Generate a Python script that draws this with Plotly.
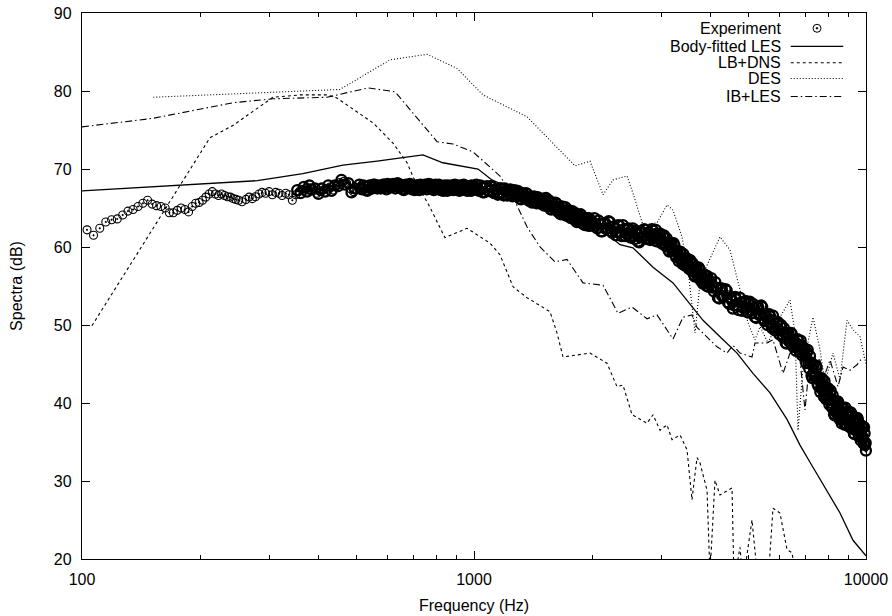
import plotly.graph_objects as go

# ---------------- data ----------------
# Experiment (Hz, dB) -- in segments
exp_freq_a = [99,103,107,111,115,119,123,127,131,135,139,143,147,151,155,159,163,167,171,175,
              179,183,187,191,195,199,203,207,211,215,219,223,227,231,235,239,243,247,
              251,256,262,267,272,277,283,288,294,300,306,312,318,324,331,337,344,351,358,365,
              372,377,382,389,397,405,413,421,429,438,446,455,464,473,483,492,502]
exp_db_a = [62.0,62.2,61.5,62.4,63.2,63.5,63.6,64.1,64.6,64.8,65.2,65.6,66.0,65.5,65.3,65.2,65.0,64.4,64.4,64.7,
            65.0,64.8,64.5,65.2,65.6,65.7,66.0,66.4,66.8,67.1,66.8,66.6,66.8,66.6,66.45,66.4,66.2,66.1,
            66.0,65.8,66.1,66.4,66.2,66.45,66.8,67.0,66.9,67.1,66.7,67.0,66.9,66.6,66.9,66.7,66.0,66.7,67.1,67.4,
            67.5,67.3,68.0,67.3,66.9,67.1,67.3,67.5,67.7,67.3,67.95,68.25,68.4,68.2,67.5,67.1,67.3]
exp_freq_a2 = [354,361,368,375,380,385,393,401,409,417,425,433,442,450,459,468,478,487,497]
exp_db_a2 = [67.3,66.9,67.7,67.1,67.9,67.4,67.5,66.8,67.5,67.1,67.9,67.2,67.9,67.8,68.6,68.0,68.2,67.0,67.5]

exp_freq_b = [510,518,526,534,542,550,558,566,574,582,590,598,606,614,622,630,638,646,654,662,
              670,678,686,694,702,710,718,726,734,742,750,758,766,774,782,790,798,806,814,822,
              830,838,846,854,862,870,878,886,894,902,910,918,926,934,942,950,958,966,974,982,990,998]
exp_db_b = [68.0,67.4,67.7,67.2,67.9,67.5,68.0,67.5,67.8,67.6,68.0,67.4,68.0,67.7,68.1,67.5,68.2,67.6,67.8,67.3,
            68.0,67.6,68.1,67.4,67.7,67.5,67.9,67.3,67.9,67.6,68.0,67.4,68.1,67.5,67.8,67.3,68.0,67.5,68.0,67.3,
            67.6,67.4,67.8,67.2,67.8,67.5,67.9,67.3,68.0,67.4,67.7,67.2,67.9,67.5,68.0,67.3,67.6,67.4,67.8,67.2,67.8,67.5]
exp_freq_b2 = [514,522,530,538,546,554,562,570,578,586,594,602,610,618,626,634,642,650,658,666,
               674,682,690,698,706,714,722,730,738,746,754,762,770,778,786,794,802,810,818,826,
               834,842,850,858,866,874,882,890,898,906,914,922,930,938,946,954,962,970,978,986,994,1002]
exp_db_b2 = [67.5,67.9,67.3,67.8,67.5,68.0,67.6,67.9,67.5,68.0,67.7,68.1,67.6,67.9,67.8,68.0,67.7,68.0,67.4,67.9,
             67.6,68.0,67.5,67.8,67.3,67.9,67.6,68.0,67.5,67.8,67.7,67.9,67.6,68.0,67.4,67.9,67.5,67.9,67.4,67.7,
             67.2,67.9,67.5,67.9,67.3,67.7,67.6,67.8,67.5,67.9,67.3,67.8,67.5,67.9,67.4,67.7,67.2,67.8,67.5,67.9,67.3,67.7]

exp_freq_c = [1014,1030,1046,1062,1078,1094,1110,1126,1142,1158,1174,1190,1206,1222,1238,1254,1270,1286,1302,1318,
              1334,1350,1366,1382,1398,1414,1430,1446,1462,1478,1494,1510,1526,1542,1558,1574,1590,1606,1622,1638,
              1654,1670,1686,1702,1718,1734,1750,1766,1782,1798,1814,1830,1846,1862,1878,1894,1910,1926,1942,1958,1974,1990]
exp_db_c = [68.0,67.2,67.6,67.0,67.8,67.2,67.7,66.9,67.3,66.9,67.5,66.6,67.2,66.8,67.4,66.5,67.3,66.5,66.9,66.1,
            66.9,66.4,66.8,65.9,66.3,65.9,66.4,65.6,66.2,65.7,66.2,65.3,66.3,65.2,65.7,64.8,65.7,65.1,65.6,64.5,
            65.0,64.5,65.1,64.1,64.7,64.2,64.7,63.7,64.6,63.6,64.0,63.2,64.1,63.5,64.1,63.0,63.5,63.1,63.7,62.7,63.4,62.9]
exp_freq_c2 = [1022,1038,1054,1070,1086,1102,1118,1134,1150,1166,1182,1198,1214,1230,1246,1262,1278,1294,1310,1326,
               1342,1358,1374,1390,1406,1422,1438,1454,1470,1486,1502,1518,1534,1550,1566,1582,1598,1614,1630,1646,
               1662,1678,1694,1710,1726,1742,1758,1774,1790,1806,1822,1838,1854,1870,1886,1902,1918,1934,1950,1966,1982,1998]
exp_db_c2 = [67.4,67.9,67.0,67.6,67.2,67.8,67.0,67.4,66.7,67.5,67.0,67.5,66.6,67.2,66.8,67.2,66.7,67.2,66.2,66.8,
             66.3,66.9,66.1,66.4,65.7,66.5,65.9,66.4,65.6,66.1,65.7,66.1,65.5,66.0,64.9,65.6,65.0,65.7,64.7,65.1,
             64.2,65.2,64.5,65.1,64.0,64.5,64.1,64.5,63.9,64.4,63.3,64.0,63.4,64.2,63.1,63.6,62.8,63.7,63.1,63.7,62.7,63.3]

exp_freq_d = [2030,2062,2094,2126,2158,2190,2222,2254,2286,2318,2350,2382,2414,2446,2478,2510,2542,2574,2606,2638,
              2670,2702,2734,2766,2798,2830,2862,2894,2926,2958,2990,3022,3054,3086,3118,3150,3182,3214,3246,3278,
              3310,3342,3374,3406,3438,3470,3502,3534,3566,3598,3630,3662,3694,3726,3758,3790,3822,3854,3886,3918,3950,3982]
exp_db_d = [63.7,62.4,63.0,62.0,63.1,62.4,63.2,61.8,62.4,61.9,62.7,61.4,62.3,61.7,62.4,61.2,62.4,61.0,61.7,60.6,
            62.0,61.3,62.2,61.0,61.7,61.3,62.1,60.8,61.7,61.0,61.7,60.4,61.5,60.1,60.6,59.4,60.5,59.6,60.2,58.7,
            59.2,58.5,59.1,57.8,58.5,57.9,58.5,57.2,58.3,56.9,57.4,56.2,57.4,56.5,57.2,55.7,56.2,55.6,56.3,55.0,55.8,55.2]
exp_freq_d2 = [2046,2078,2110,2142,2174,2206,2238,2270,2302,2334,2366,2398,2430,2462,2494,2526,2558,2590,2622,2654,
               2686,2718,2750,2782,2814,2846,2878,2910,2942,2974,3006,3038,3070,3102,3134,3166,3198,3230,3262,3294,
               3326,3358,3390,3422,3454,3486,3518,3550,3582,3614,3646,3678,3710,3742,3774,3806,3838,3870,3902,3934,3966,3998]
exp_db_d2 = [62.7,63.4,62.0,63.0,62.3,63.3,62.0,62.6,61.5,62.8,61.9,62.8,61.4,62.2,61.7,62.1,61.4,62.1,60.7,61.8,
             61.2,62.3,61.1,61.8,60.9,62.3,61.4,62.2,60.7,61.5,60.9,61.4,60.5,61.1,59.6,60.5,59.6,60.5,59.0,59.4,
             58.2,59.4,58.3,59.1,57.6,58.3,57.7,58.1,57.3,57.9,56.4,57.3,56.4,57.4,55.9,56.4,55.3,56.5,55.6,56.3,54.9,55.6]

exp_freq_e = [4030,4094,4158,4222,4286,4350,4414,4478,4542,4606,4670,4734,4798,4862,4926,4990,5054,5118,5182,5246,
              5310,5374,5438,5502,5566,5630,5694,5758,5822,5886,5950,6014,6078,6142,6206,6270,6334,6398,6462,6526,
              6590,6654,6718,6782,6846,6910,6974,7038,7102,7166,7230,7294,7358,7422,7486,7550,7614,7678,7742,7806,
              7870,7934,7998,8062,8126,8190,8254,8318,8382,8446,8510,8574,8638,8702,8766,8830,8894,8958,9022,9086,
              9150,9214,9278,9342,9406,9470,9534,9598,9662,9726,9790,9854,9918,9982,9995]
exp_db_e = [56.0,54.3,54.8,53.4,54.7,53.7,54.4,52.7,53.2,52.5,53.3,51.9,52.9,52.2,53.1,51.6,53.0,51.5,52.2,50.9,
            52.3,51.4,52.3,50.5,51.1,50.4,51.1,49.6,50.5,49.6,50.4,48.8,50.0,48.4,49.0,47.6,49.0,48.0,48.9,47.2,
            47.8,47.1,48.0,46.5,47.4,46.4,47.0,45.1,46.8,44.4,45.2,43.2,44.9,43.6,44.5,42.2,42.9,41.9,42.9,40.8,
            42.0,40.9,41.9,39.8,41.6,39.4,40.3,38.4,40.2,38.9,40.0,37.9,38.8,38.0,39.2,37.2,38.7,37.7,38.9,36.9,
            38.8,36.7,37.7,36.0,37.9,36.7,37.9,35.7,36.7,35.8,36.8,34.8,36.1,34.9,33.9]
exp_freq_e2 = [4062,4126,4190,4254,4318,4382,4446,4510,4574,4638,4702,4766,4830,4894,4958,5022,5086,5150,5214,5278,
               5342,5406,5470,5534,5598,5662,5726,5790,5854,5918,5982,6046,6110,6174,6238,6302,6366,6430,6494,6558,
               6622,6686,6750,6814,6878,6942,7006,7070,7134,7198,7262,7326,7390,7454,7518,7582,7646,7710,7774,7838,
               7902,7966,8030,8094,8158,8222,8286,8350,8414,8478,8542,8606,8670,8734,8798,8862,8926,8990,9054,9118,
               9182,9246,9310,9374,9438,9502,9566,9630,9694,9758,9822,9886,9950]
exp_db_e2 = [54.8,55.5,53.5,54.7,53.6,54.6,52.9,53.5,52.1,53.6,52.5,53.5,51.8,52.8,52.2,52.7,51.9,52.7,51.0,52.2,
             51.3,52.5,50.8,51.3,50.0,51.4,50.2,51.2,49.3,50.2,49.4,49.9,48.8,49.6,47.7,48.9,47.9,49.0,47.4,48.0,
             46.7,48.2,47.1,48.0,46.1,46.9,46.0,46.5,45.1,46.0,43.5,44.9,43.4,44.8,42.5,43.2,41.4,43.2,41.6,42.8,
             40.5,41.6,40.7,41.2,40.0,41.0,38.6,40.1,38.7,40.2,38.1,39.0,37.4,39.4,38.0,39.4,37.2,38.5,37.7,38.4,
             37.2,38.4,36.1,37.7,36.5,38.1,36.0,36.8,35.2,37.1,35.6,36.9,34.6]

# Body-fitted LES
les_freq = [100,280,366,463,566,741,833,937,1024,1111,1310,1563,1864,2096,2262,2357,2544,2862,3219,3495,
            3839,4242,4688,5149,5691,6288,6786,7197,7954,8584,9265,10000]
les_db = [67.2,68.5,69.4,70.5,71.0,71.8,70.8,70.3,70.0,68.6,67.0,65.5,63.8,62.5,61.0,60.3,59.9,57.4,55.4,53.2,
          50.6,48.5,46.4,43.8,41.3,37.9,34.6,32.4,28.8,25.9,22.4,20.4]

# LB+DNS
lbdns_freq = [106,158,181,200,212,243,307,360,422,447,553,622,675,699,772,843,960,1098,1165,1258,1365,1563,1628,
              1687,1977,2184,2316,2399,2530,2763,2862,2983,3107,3200,3354,3495,3598,3706,3772,3931,3999,4119,4242,
              4552,4606,4771,4856,5119,5303,5623,5791,6033,6288,6475,6668]
lbdns_db = [49.9,63.8,68.6,72.1,74.0,75.6,79.2,79.5,79.5,79.1,75.9,73.3,70.8,69.0,65.1,61.2,62.4,60.5,59.0,54.9,
            53.5,51.7,49.0,45.9,46.4,45.1,42.1,42.3,38.5,37.4,38.5,36.5,37.2,35.3,35.9,34.0,27.6,33.0,32.3,28.8,
            18.0,30.1,28.2,29.1,17.0,21.5,17.0,25.0,17.0,17.0,26.5,25.9,21.2,20.8,17.0]

# DES
des_freq = [152,268,455,611,759,905,1054,1365,1563,1810,1977,2134,2262,2457,2544,2698,2930,3107,3219,3393,3515,
            3663,3772,3885,4242,4499,4771,5000,5210,5369,5623,6033,6399,6590,6708,6908,7325,7633,7860,8238,8584,
            8944,9265,9654,10000]
des_db = [79.2,79.7,80.2,84.0,84.7,82.9,79.5,76.7,73.7,70.4,71.0,66.7,68.6,69.1,66.9,62.8,63.1,65.4,64.7,61.3,57.1,
          49.0,55.4,57.1,61.3,59.6,54.5,50.3,48.1,49.8,47.7,51.0,53.2,49.0,36.5,44.6,51.0,46.8,42.6,46.4,43.0,
          50.6,49.4,48.5,45.0]

# IB+LES
ibles_freq = [100,152,243,307,422,537,629,805,884,994,1165,1258,1365,1474,1609,1727,1897,2134,2330,2530,2763,
              2930,3219,3414,3598,3706,4168,4419,4578,4771,5119,5210,5589,5791,6142,6399,6786,6989,7197,7633,
              7768,8095,8484,8737,9104,9484,9824]
ibles_db = [75.4,76.5,78.5,79.0,79.2,80.4,79.9,73.5,73.2,72.2,69.1,66.4,62.6,60.0,58.1,58.4,55.4,55.1,51.5,52.3,
            50.8,51.3,48.2,51.0,51.3,49.7,47.2,46.4,47.4,46.4,45.9,47.7,47.7,48.1,43.8,46.4,45.5,39.1,45.9,45.5,
            43.0,45.5,42.1,44.6,44.2,44.9,45.9]

legend_names = ["Experiment", "Body-fitted LES", "LB+DNS", "DES", "IB+LES"]
x_tick_vals = [100, 1000, 10000]
x_tick_text = ["100", "1000", "10000"]
x_minor_vals = [200, 300, 400, 500, 600, 700, 800, 900, 2000, 3000, 4000, 5000, 6000, 7000, 8000, 9000]
y_tick_vals = [20, 30, 40, 50, 60, 70, 80, 90]

dense_freq = (exp_freq_a2 + exp_freq_b + exp_freq_b2 + exp_freq_c + exp_freq_c2
              + exp_freq_d + exp_freq_d2 + exp_freq_e + exp_freq_e2)
dense_db = (exp_db_a2 + exp_db_b + exp_db_b2 + exp_db_c + exp_db_c2
            + exp_db_d + exp_db_d2 + exp_db_e + exp_db_e2)
for fx, fy in [(exp_freq_a, exp_db_a), (exp_freq_a2, exp_db_a2), (exp_freq_b, exp_db_b), (exp_freq_b2, exp_db_b2),
               (exp_freq_c, exp_db_c), (exp_freq_c2, exp_db_c2), (exp_freq_d, exp_db_d), (exp_freq_d2, exp_db_d2),
               (exp_freq_e, exp_db_e), (exp_freq_e2, exp_db_e2), (les_freq, les_db), (lbdns_freq, lbdns_db),
               (des_freq, des_db), (ibles_freq, ibles_db)]:
    assert len(fx) == len(fy), (len(fx), len(fy))

FONT = "Liberation Sans, Arial, sans-serif"
DASH_LB = "3px,3px"
DASH_DES = "1px,2px"
DASH_IB = "7px,3px,1.5px,3px"

fig = go.Figure()
fig.add_trace(go.Scatter(x=les_freq, y=les_db, mode="lines", name=legend_names[1],
                         line=dict(color="black", width=1.3)))
fig.add_trace(go.Scatter(x=lbdns_freq, y=lbdns_db, mode="lines", name=legend_names[2],
                         line=dict(color="black", width=1.1, dash=DASH_LB)))
fig.add_trace(go.Scatter(x=des_freq, y=des_db, mode="lines", name=legend_names[3],
                         line=dict(color="black", width=1.1, dash=DASH_DES)))
fig.add_trace(go.Scatter(x=ibles_freq, y=ibles_db, mode="lines", name=legend_names[4],
                         line=dict(color="black", width=1.1, dash=DASH_IB)))
# sparse low-frequency part of the measurement
fig.add_trace(go.Scatter(x=exp_freq_a, y=exp_db_a, mode="markers", name=legend_names[0],
                         cliponaxis=False,
                         marker=dict(symbol="circle-open-dot", size=8, color="black",
                                     line=dict(width=1.1, color="black"))))
# densely overlapping part of the measurement (same series)
fig.add_trace(go.Scatter(x=dense_freq, y=dense_db, mode="markers", name=legend_names[0],
                         cliponaxis=False,
                         marker=dict(symbol="circle-open-dot", size=10, color="black",
                                     line=dict(width=2.3, color="black"))))

# gnuplot-style legend (text right-aligned, sample to its right)
row_y = [0.972, 0.939, 0.909, 0.880, 0.847]
text_x = 0.894
line_x0, line_x1 = 0.904, 0.971
mark_x = 0.9375
styles = [None, "solid", DASH_LB, DASH_DES, DASH_IB]
for i, nm in enumerate(legend_names):
    fig.add_annotation(x=text_x, y=row_y[i], xref="paper", yref="paper", text=nm,
                       showarrow=False, xanchor="right", yanchor="middle",
                       font=dict(family=FONT, size=16, color="black"))
    if i == 0:
        fig.add_shape(type="circle", xref="paper", yref="paper", xsizemode="pixel", ysizemode="pixel",
                      xanchor=mark_x, yanchor=row_y[i], x0=-4, x1=4, y0=-4, y1=4,
                      line=dict(color="black", width=1))
        fig.add_shape(type="circle", xref="paper", yref="paper", xsizemode="pixel", ysizemode="pixel",
                      xanchor=mark_x, yanchor=row_y[i], x0=-0.8, x1=0.8, y0=-0.8, y1=0.8,
                      line=dict(color="black", width=1), fillcolor="black")
    else:
        fig.add_shape(type="line", xref="paper", yref="paper", x0=line_x0, x1=line_x1,
                      y0=row_y[i], y1=row_y[i],
                      line=dict(color="black", width=1.3 if i == 1 else 1.1, dash=styles[i]))

fig.update_layout(
    width=892, height=616,
    margin=dict(l=82, r=26, t=13, b=57),
    paper_bgcolor="white", plot_bgcolor="white",
    showlegend=False,
    font=dict(family=FONT, size=16, color="black"),
    xaxis=dict(type="log", range=[2, 4], tickmode="array", tickvals=x_tick_vals, ticktext=x_tick_text,
               ticks="inside", ticklen=8, tickwidth=1, tickcolor="black",
               minor=dict(tickmode="array", tickvals=x_minor_vals, ticks="inside", ticklen=4,
                          tickwidth=1, tickcolor="black", showgrid=False),
               showline=True, linecolor="black", linewidth=1.3, mirror="allticks",
               showgrid=False, zeroline=False, ticklabelstandoff=6,
               title=dict(text="Frequency (Hz)", standoff=12, font=dict(size=16)),
               tickfont=dict(size=16), automargin=False),
    yaxis=dict(range=[20, 90], tickmode="array", tickvals=y_tick_vals,
               ticks="inside", ticklen=8, tickwidth=1, tickcolor="black",
               showline=True, linecolor="black", linewidth=1.3, mirror="allticks",
               showgrid=False, zeroline=False, ticklabelstandoff=6,
               title=dict(text="Spectra (dB)", standoff=27, font=dict(size=16)),
               tickfont=dict(size=16), automargin=False),
)

fig.write_html("out.html")
